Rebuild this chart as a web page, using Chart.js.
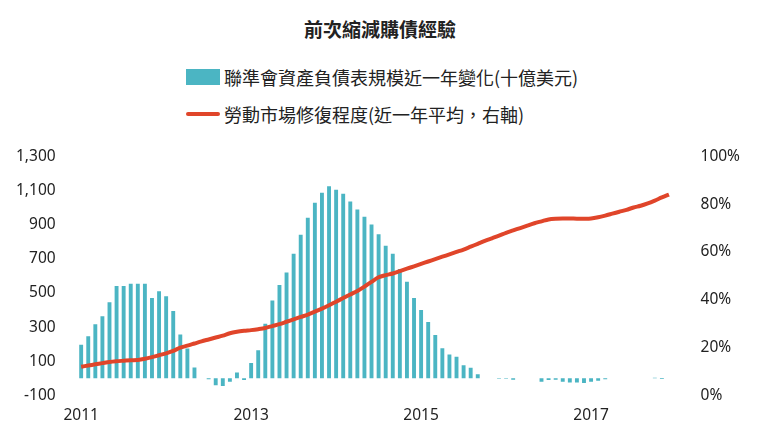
<!DOCTYPE html>
<html>
<head>
<meta charset="utf-8">
<script src="https://cdn.jsdelivr.net/npm/chart.js@4"></script>
<style>
  body { margin: 0; width: 760px; height: 430px; background: #fff; font-family: "Noto Sans CJK TC", "Noto Sans", sans-serif; color: #222; }
  .title { position: absolute; top: 15px; width: 760px; text-align: center; font-size: 19px; font-weight: bold; }
  .legend { position: absolute; left: 186px; font-size: 18px; display: flex; align-items: center; }
  .sw-bar { width: 34px; height: 16px; background: #4bb5c3; margin-right: 4px; }
  .sw-line { width: 34px; height: 4px; background: #e0452a; margin-right: 4px; border-radius: 2px; }
  #wrap { position: absolute; left: 0; top: 127px; width: 760px; height: 303px; }
</style>
</head>
<body>
<div class="title">前次縮減購債經驗</div>
<div class="legend" style="top:64px"><div class="sw-bar"></div>聯準會資產負債表規模近一年變化(十億美元)</div>
<div class="legend" style="top:101px"><div class="sw-line"></div>勞動市場修復程度(近一年平均，右軸)</div>
<div id="wrap"><canvas id="chart"></canvas></div>
<script>
// ========== DATA ==========
const months = [];
for (let y = 2011; y <= 2017; y++) for (let m = 1; m <= 12; m++) months.push(y + '-' + m);

const balanceChange = [
    196, 246, 316, 364, 446, 540, 540, 554, 554, 554, 470, 510,
    480, 394, 256, 174, 64, 0, -5, -40, -45, -20, 34, -10,
    90, 164, 320, 456, 546, 620, 730, 840, 940, 1028, 1086, 1125,
    1104, 1080, 1036, 988, 946, 900, 844, 776, 730, 640, 566, 470,
    400, 330, 254, 176, 140, 126, 76, 62, 24, 0, 0, -2,
    -2, -8, 0, 0, 0, -20, -10, -8, -20, -24, -24, -28,
    -20, -14, -6, 0, 0, 0, 0, 0, 0, 4, -4, 0
];

const laborRecovery = [
    12, 12.5, 13, 13.5, 14, 14.3, 14.5, 14.7, 14.8, 15.3, 16, 16.8,
    17.6, 18.6, 20, 20.8, 21.7, 22.6, 23.4, 24.2, 25, 26, 26.6, 27,
    27.3, 27.7, 28.2, 29, 29.8, 30.8, 31.8, 32.8, 33.8, 35, 36.3, 37.7,
    39.2, 40.7, 42.2, 43.7, 45.5, 47.5, 49.4, 50.3, 51, 52, 53, 54,
    55, 56, 57, 58, 59, 60, 61, 62.2, 63.4, 64.6, 65.7, 66.8,
    68, 69, 70, 71, 72, 72.8, 73.6, 73.9, 74, 74, 73.9, 73.9,
    74, 74.5, 75.2, 76, 76.8, 77.6, 78.6, 79.3, 80.3, 81.5, 82.8, 84
];

const yearTicks = ['2011', '2013', '2015', '2017'];

// ========== CHART ==========
const tickFont = { family: '"Noto Sans", sans-serif', size: 15.5 };
new Chart(document.getElementById('chart').getContext('2d'), {
    type: 'bar',
    data: {
        labels: months,
        datasets: [
            {
                type: 'line',
                data: laborRecovery,
                yAxisID: 'yR',
                borderColor: '#e0452a',
                borderWidth: 4,
                pointRadius: 0,
                tension: 0.3
            },
            {
                data: balanceChange,
                yAxisID: 'yL',
                backgroundColor: '#4bb5c3',
                barPercentage: 0.55,
                categoryPercentage: 1
            }
        ]
    },
    options: {
        responsive: true,
        maintainAspectRatio: false,
        animation: false,
        layout: { padding: { left: 2, right: 0, top: 12, bottom: 2 } },
        plugins: { legend: { display: false }, tooltip: { enabled: false } },
        scales: {
            x: {
                grid: { display: false },
                border: { display: false },
                ticks: {
                    font: tickFont, color: '#222', autoSkip: false, maxRotation: 0,
                    callback: function (v, i) {
                        const [y, m] = months[i].split('-');
                        return (m === '1' && yearTicks.includes(y)) ? y : '';
                    }
                }
            },
            yL: {
                position: 'left', min: -100, max: 1300,
                grid: { display: false }, border: { display: false },
                ticks: { stepSize: 200, font: tickFont, color: '#222', padding: 14,
                    callback: v => v.toLocaleString('en-US') }
            },
            yR: {
                position: 'right', min: 0, max: 100,
                grid: { display: false }, border: { display: false },
                ticks: { stepSize: 20, font: tickFont, color: '#222', padding: 20,
                    callback: v => v + '%' }
            }
        }
    }
});
</script>
</body>
</html>
